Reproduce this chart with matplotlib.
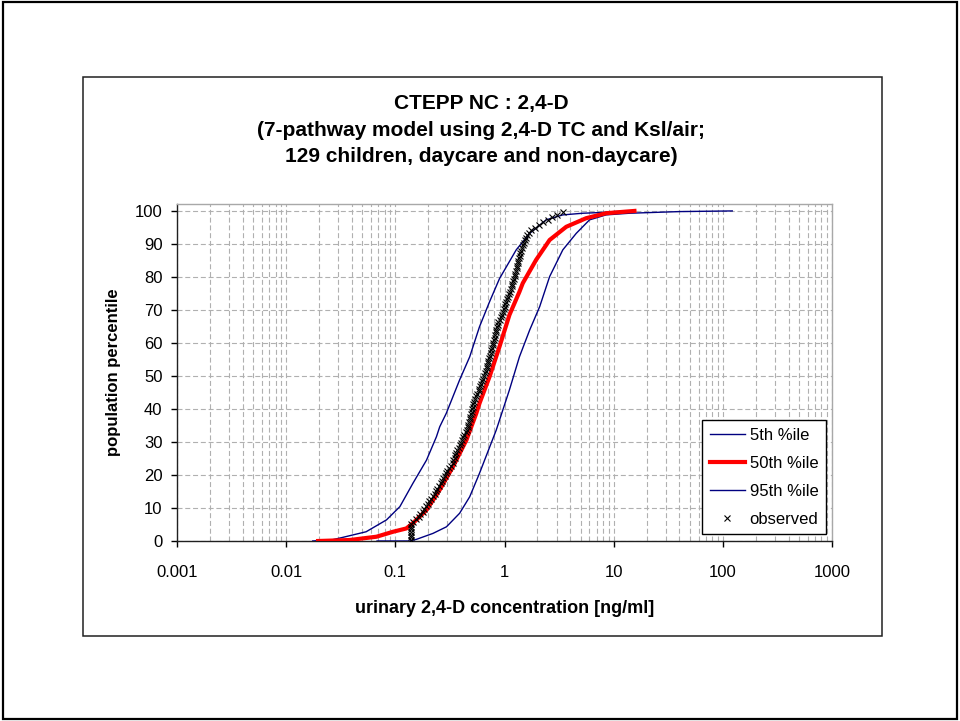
import matplotlib
matplotlib.use("Agg")
import matplotlib.pyplot as plt
from matplotlib.patches import Rectangle
from matplotlib.ticker import LogLocator, NullFormatter

plt.rcParams['font.family'] = ['Liberation Sans', 'DejaVu Sans']

# ---- data ----
p05_conc = [0.0175, 0.0267, 0.033, 0.054, 0.083, 0.110, 0.145, 0.193, 0.238, 0.255, 0.293,
            0.388, 0.48, 0.59, 0.73, 0.90, 1.28, 1.70, 2.41, 3.42, 5.21, 7.41, 10.0, 15.0]
p05_pct = [0.0, 0.4, 1.1, 2.8, 6.4, 10.4, 17.5, 24.5, 31.6, 34.6, 38.7,
           48.8, 55.8, 64.9, 72.5, 79.5, 88.2, 93.2, 97.3, 98.8, 99.3, 99.5, 99.8, 100.0]

p50_conc = [0.0196, 0.0383, 0.0672, 0.0953, 0.126, 0.145, 0.193, 0.255, 0.337, 0.448, 0.552,
            0.59, 0.73, 0.90, 1.11, 1.37, 1.47, 1.95, 2.59, 3.68, 5.60, 8.53, 13.0, 15.5]
p50_pct = [0.0, 0.3, 1.3, 2.8, 3.8, 5.4, 9.4, 15.5, 22.5, 30.6, 38.7,
           41.7, 49.8, 58.9, 68.5, 75.5, 78.1, 85.2, 91.2, 95.2, 97.8, 99.3, 99.8, 100.0]

p95_conc = [0.068, 0.135, 0.156, 0.221, 0.294, 0.388, 0.48, 0.59, 0.84, 1.11, 1.37, 1.70,
            2.10, 2.59, 3.42, 4.54, 6.01, 8.53, 13.9, 21.2, 40.0, 122.0]
p95_pct = [0.0, 0.0, 0.5, 2.3, 4.3, 8.4, 13.4, 20.5, 33.6, 45.8, 55.8, 63.9,
           71.0, 80.1, 88.2, 93.2, 97.3, 98.8, 99.3, 99.5, 99.8, 100.0]

# observed urinary concentrations of the 129 children (sorted) and their percentiles
obs_conc = [0.14, 0.14, 0.14, 0.14, 0.14, 0.14, 0.14, 0.145, 0.155, 0.165, 0.17, 0.18,
            0.185, 0.19, 0.20, 0.205, 0.21, 0.22, 0.23, 0.235, 0.24, 0.25, 0.26, 0.265,
            0.275, 0.285, 0.29, 0.30, 0.31, 0.325, 0.335, 0.34, 0.35, 0.355, 0.36, 0.37,
            0.38, 0.39, 0.40, 0.41, 0.42, 0.43, 0.44, 0.45, 0.46, 0.465, 0.47, 0.48, 0.485,
            0.49, 0.50, 0.505, 0.51, 0.52, 0.53, 0.54, 0.55, 0.565, 0.58, 0.59, 0.60, 0.61,
            0.62, 0.635, 0.65, 0.66, 0.675, 0.685, 0.695, 0.70, 0.71, 0.72, 0.735, 0.75,
            0.76, 0.77, 0.78, 0.79, 0.80, 0.81, 0.82, 0.83, 0.84, 0.855, 0.87, 0.88, 0.90,
            0.92, 0.94, 0.96, 0.98, 1.00, 1.02, 1.04, 1.06, 1.08, 1.10, 1.12, 1.14, 1.16,
            1.18, 1.20, 1.22, 1.24, 1.26, 1.27, 1.29, 1.31, 1.32, 1.34, 1.36, 1.38, 1.40,
            1.42, 1.44, 1.47, 1.50, 1.53, 1.57, 1.61, 1.66, 1.75, 1.90, 2.05, 2.25, 2.50,
            2.70, 3.0, 3.4]
obs_pct = [0.39, 1.16, 1.94, 2.71, 3.49, 4.26, 5.04, 5.81, 6.59, 7.36, 8.14, 8.91, 9.69,
           10.47, 11.24, 12.02, 12.79, 13.57, 14.34, 15.12, 15.89, 16.67, 17.44, 18.22,
           18.99, 19.77, 20.54, 21.32, 22.09, 22.87, 23.64, 24.42, 25.19, 25.97, 26.74,
           27.52, 28.29, 29.07, 29.84, 30.62, 31.40, 32.17, 32.95, 33.72, 34.50, 35.27,
           36.05, 36.82, 37.60, 38.37, 39.15, 39.92, 40.70, 41.47, 42.25, 43.02, 43.80,
           44.57, 45.35, 46.12, 46.90, 47.67, 48.45, 49.22, 50.00, 50.78, 51.55, 52.33,
           53.10, 53.88, 54.65, 55.43, 56.20, 56.98, 57.75, 58.53, 59.30, 60.08, 60.85,
           61.63, 62.40, 63.18, 63.95, 64.73, 65.50, 66.28, 67.05, 67.83, 68.60, 69.38,
           70.16, 70.93, 71.71, 72.48, 73.26, 74.03, 74.81, 75.58, 76.36, 77.13, 77.91,
           78.68, 79.46, 80.23, 81.01, 81.78, 82.56, 83.33, 84.11, 84.88, 85.66, 86.43,
           87.21, 87.98, 88.76, 89.53, 90.31, 91.09, 91.86, 92.64, 93.41, 94.19, 94.96,
           95.74, 96.51, 97.29, 98.06, 98.84, 99.61]

x_ticks = [0.001, 0.01, 0.1, 1, 10, 100, 1000]
x_ticklabels = ['0.001', '0.01', '0.1', '1', '10', '100', '1000']
y_ticks = [0, 10, 20, 30, 40, 50, 60, 70, 80, 90, 100]

title_lines = ['CTEPP NC : 2,4-D',
               '(7-pathway model using 2,4-D TC and Ksl/air;',
               '129 children, daycare and non-daycare)']

W, H = 960, 721
fig = plt.figure(figsize=(9.6, 7.21), dpi=100)

# outer slide frame and chart box
fig.patches.append(Rectangle((3 / W, 1 - 719 / H), 954 / W, 717 / H, transform=fig.transFigure,
                             fill=False, edgecolor='black', linewidth=1.6))
fig.patches.append(Rectangle((83 / W, 1 - 636 / H), 799 / W, 559 / H, transform=fig.transFigure,
                             fill=False, edgecolor='#202020', linewidth=1.1))

ax = fig.add_axes([177 / W, 1 - 541 / H, (832 - 177) / W, (541 - 204) / H])
ax.set_xscale('log')
ax.set_xlim(0.001, 1000)
ax.set_ylim(0, 102.1)

# gridlines
grid_kw = dict(color='#b0b0b0', linestyle=(0, (4.5, 2.5)), linewidth=0.8)
ax.xaxis.set_minor_locator(LogLocator(base=10, subs=range(2, 10), numticks=20))
ax.xaxis.set_minor_formatter(NullFormatter())
ax.grid(True, which='major', axis='both', **grid_kw)
ax.grid(True, which='minor', axis='x', **grid_kw)
ax.set_axisbelow(True)

ax.plot(p05_conc, p05_pct, color='#000080', linewidth=1.0, label='5th %ile', zorder=3)
ax.plot(p95_conc, p95_pct, color='#000080', linewidth=1.0, label='95th %ile', zorder=3)
ax.plot(p50_conc, p50_pct, color='#ff0000', linewidth=3.0, label='50th %ile', zorder=4)
ax.plot(obs_conc, obs_pct, linestyle='none', marker='x', markersize=5, markeredgewidth=0.8,
        color='black', label='observed', zorder=5)

ax.set_xticks(x_ticks)
ax.set_xticklabels(x_ticklabels)
ax.set_yticks(y_ticks)
ax.tick_params(axis='x', which='major', direction='out', length=4.5, width=1, pad=13,
               labelsize=12)
ax.tick_params(axis='x', which='minor', length=0)
ax.tick_params(axis='y', which='major', direction='out', length=4.5, width=1, pad=6,
               labelsize=12)

for s in ['left', 'bottom']:
    ax.spines[s].set_color('#202020')
    ax.spines[s].set_linewidth(1.0)
for s in ['top', 'right']:
    ax.spines[s].set_color('#a8a8a8')
    ax.spines[s].set_linewidth(1.0)

ax.set_xlabel('urinary 2,4-D concentration [ng/ml]', fontsize=13, fontweight='bold',
              labelpad=14)
ax.set_ylabel('population percentile', fontsize=12, fontweight='bold', labelpad=10)

for line, y in zip(title_lines, [104, 131, 156]):
    fig.text(481 / W, 1 - y / H, line, ha='center', va='center', fontsize=15,
             fontweight='bold')

handles, labels = ax.get_legend_handles_labels()
order = [labels.index(l) for l in ['5th %ile', '50th %ile', '95th %ile', 'observed']]
leg = ax.legend([handles[i] for i in order], [labels[i] for i in order],
                loc='upper left', bbox_to_anchor=(702 / W, 1 - 420 / H),
                bbox_transform=fig.transFigure, borderaxespad=0, fancybox=False,
                frameon=True, fontsize=12, handlelength=2.1, handletextpad=0.3,
                labelspacing=0.78, borderpad=0.45, framealpha=1)
leg.get_frame().set_edgecolor('black')
leg.get_frame().set_linewidth(1.0)

fig.savefig('out.png', dpi=100)
